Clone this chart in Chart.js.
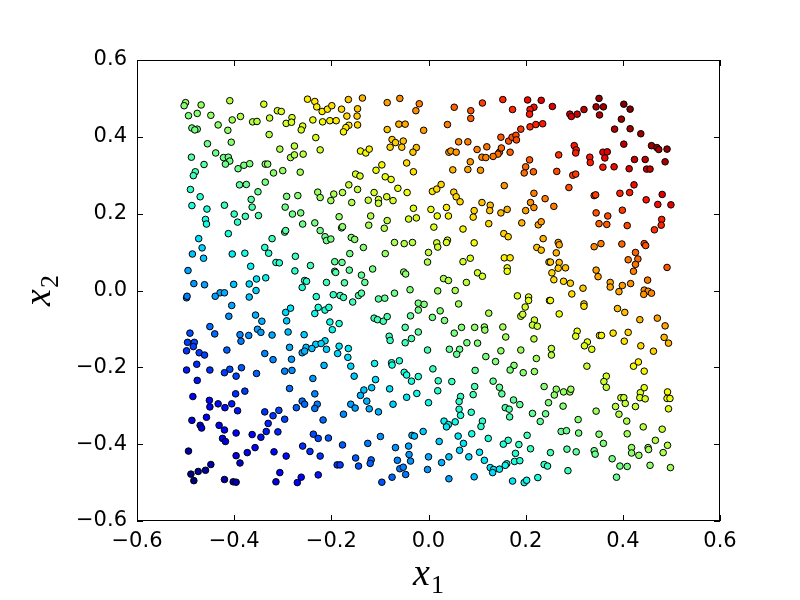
<!DOCTYPE html>
<html>
<head>
<meta charset="utf-8">
<script src="https://cdn.jsdelivr.net/npm/chart.js@4.4.1/dist/chart.umd.min.js"></script>
<style>
  html, body { margin: 0; padding: 0; background: #fff; }
  #wrap { width: 800px; height: 600px; }
</style>
</head>
<body>
<div id="wrap"><canvas id="plot" width="800" height="600"></canvas></div>
<script>
// tick values for both axes
const xTicks = [-0.6, -0.4, -0.2, 0.0, 0.2, 0.4, 0.6];
const yTicks = [-0.6, -0.4, -0.2, 0.0, 0.2, 0.4, 0.6];

// samples: [x1, x2]
const samples = [
  [-0.500,0.489],[-0.503,0.481],[-0.468,0.483],[-0.409,0.494],[-0.494,0.455],[-0.476,0.461],[-0.448,0.456],[-0.339,0.485],
  [-0.311,0.468],[-0.303,0.466],[-0.387,0.453],[-0.404,0.444],[-0.362,0.439],[-0.353,0.440],[-0.327,0.449],[-0.281,0.450],
  [-0.293,0.435],[-0.282,0.438],[-0.487,0.423],[-0.476,0.420],[-0.481,0.418],[-0.433,0.431],[-0.413,0.417],[-0.328,0.406],
  [-0.455,0.382],[-0.406,0.386],[-0.276,0.376],[-0.306,0.368],[-0.488,0.347],[-0.438,0.358],[-0.422,0.346],[-0.412,0.347],
  [-0.409,0.337],[-0.418,0.329],[-0.462,0.328],[-0.392,0.317],[-0.380,0.326],[-0.368,0.330],[-0.336,0.329],[-0.331,0.329],
  [-0.284,0.346],[-0.276,0.353],[-0.480,0.309],[-0.484,0.299],[-0.319,0.306],[-0.300,0.312],[-0.264,0.308],[-0.490,0.263],
  [-0.389,0.275],[-0.375,0.276],[-0.336,0.282],[-0.470,0.244],[-0.351,0.257],[-0.292,0.245],[-0.269,0.247],[-0.365,0.237],
  [-0.487,0.221],[-0.456,0.212],[-0.420,0.222],[-0.363,0.217],[-0.295,0.217],[-0.400,0.199],[-0.377,0.193],[-0.350,0.195],
  [-0.280,0.199],[-0.263,0.202],[-0.459,0.185],
  [-0.249,0.498],[-0.234,0.492],[-0.230,0.478],[-0.219,0.466],[-0.208,0.472],[-0.199,0.481],[-0.165,0.497],[-0.136,0.501],
  [-0.179,0.472],[-0.146,0.473],[-0.085,0.489],[-0.059,0.500],[-0.019,0.486],[-0.026,0.468],[-0.168,0.454],[-0.147,0.454],
  [-0.238,0.444],[-0.218,0.439],[-0.203,0.442],[-0.190,0.442],[-0.164,0.430],[-0.170,0.424],[-0.175,0.413],[-0.146,0.431],
  [-0.061,0.433],[-0.048,0.433],[-0.085,0.419],[-0.010,0.417],[-0.232,0.398],[-0.259,0.428],[-0.262,0.418],[-0.075,0.393],
  [-0.068,0.385],[-0.052,0.389],[-0.079,0.373],[-0.055,0.373],[-0.025,0.372],[-0.032,0.360],[-0.223,0.366],[-0.140,0.363],
  [-0.129,0.358],[-0.122,0.368],[-0.258,0.355],[-0.096,0.327],[-0.108,0.313],[-0.045,0.332],[-0.031,0.309],[-0.150,0.303],
  [-0.141,0.298],[-0.089,0.296],[-0.077,0.289],[-0.063,0.266],[-0.044,0.255],[-0.164,0.275],[-0.146,0.263],[-0.228,0.256],
  [-0.223,0.242],[-0.195,0.251],[-0.177,0.255],[-0.201,0.234],[-0.158,0.229],[-0.112,0.255],[-0.124,0.235],[-0.103,0.237],
  [-0.103,0.227],[-0.086,0.244],[-0.073,0.234],[-0.031,0.214],[-0.184,0.192],[-0.119,0.194],[-0.041,0.186],[-0.025,0.189],
  [0.053,0.477],[0.111,0.488],[0.153,0.497],[0.173,0.471],[0.204,0.496],[0.232,0.495],[0.217,0.477],[0.209,0.471],
  [0.208,0.459],[0.087,0.468],[0.087,0.448],[0.039,0.432],[0.190,0.420],[0.209,0.426],[0.221,0.432],[0.235,0.434],
  [0.062,0.387],[0.081,0.387],[0.149,0.399],[0.165,0.389],[0.172,0.399],[0.180,0.404],[0.181,0.392],[0.100,0.367],
  [0.120,0.374],[0.042,0.360],[0.046,0.363],[0.057,0.360],[0.146,0.360],[0.150,0.371],[0.143,0.355],[0.133,0.349],
  [0.168,0.360],[0.110,0.347],[0.118,0.346],[0.086,0.335],[0.208,0.340],[0.200,0.322],[0.216,0.309],[0.197,0.306],
  [0.050,0.314],[0.081,0.315],[0.107,0.313],[0.156,0.273],[0.008,0.258],[0.017,0.264],[0.026,0.276],[0.052,0.256],
  [0.057,0.244],[0.065,0.231],[0.217,0.253],[0.240,0.239],[0.210,0.229],[0.217,0.216],[0.110,0.229],[0.127,0.222],
  [0.094,0.208],[0.092,0.191],[0.126,0.208],[0.005,0.211],[0.018,0.194],[0.037,0.216],[0.041,0.194],[0.149,0.202],
  [0.162,0.211],[0.200,0.208],
  [0.255,0.479],[0.351,0.500],[0.345,0.478],[0.360,0.478],[0.352,0.457],[0.320,0.471],[0.306,0.459],[0.291,0.459],
  [0.294,0.453],[0.402,0.485],[0.415,0.472],[0.397,0.446],[0.383,0.420],[0.415,0.421],[0.437,0.408],[0.402,0.381],
  [0.459,0.377],[0.470,0.372],[0.474,0.367],[0.491,0.368],[0.487,0.335],[0.300,0.377],[0.304,0.366],[0.303,0.358],
  [0.268,0.353],[0.332,0.347],[0.333,0.333],[0.359,0.360],[0.368,0.361],[0.363,0.345],[0.359,0.321],[0.382,0.322],
  [0.413,0.317],[0.424,0.341],[0.446,0.341],[0.449,0.316],[0.456,0.316],[0.264,0.310],[0.297,0.300],[0.303,0.303],
  [0.289,0.268],[0.423,0.275],[0.341,0.247],[0.344,0.249],[0.394,0.253],[0.414,0.255],[0.448,0.236],[0.481,0.250],
  [0.472,0.224],[0.499,0.223],[0.258,0.219],[0.345,0.202],[0.369,0.194],[0.399,0.209],[0.480,0.185],
  [-0.457,0.173],[-0.393,0.178],[-0.412,0.148],[-0.473,0.135],[-0.466,0.111],[-0.463,0.084],[-0.486,0.095],[-0.404,0.095],
  [-0.378,0.097],[-0.495,0.052],[-0.366,0.063],[-0.337,0.112],[-0.329,0.097],[-0.322,0.135],[-0.296,0.152],[-0.294,0.156],
  [-0.314,0.073],[-0.307,0.072],[-0.274,0.089],[-0.275,0.051],[-0.483,0.018],[-0.461,0.015],[-0.401,0.016],[-0.369,0.017],
  [-0.354,0.030],[-0.335,0.033],[-0.355,0.000],[-0.369,-0.017],[-0.429,-0.006],[-0.420,-0.006],[-0.439,-0.015],[-0.498,-0.019],
  [-0.497,-0.015],[-0.405,-0.039],[-0.411,-0.067],[-0.356,-0.064],[-0.343,-0.080],[-0.284,-0.046],[-0.294,-0.057],[-0.292,-0.079],
  [-0.289,-0.108],[-0.352,-0.101],[-0.345,-0.109],[-0.322,-0.116],[-0.450,-0.094],[-0.440,-0.113],[-0.491,-0.111],[-0.496,-0.135],
  [-0.482,-0.135],[-0.484,-0.146],[-0.388,-0.115],[-0.370,-0.117],[-0.386,-0.132],[-0.286,-0.148],
  [-0.259,0.173],[-0.234,0.176],[-0.123,0.170],[-0.085,0.182],[-0.091,0.162],[-0.179,0.163],[-0.177,0.166],[-0.223,0.156],
  [-0.213,0.140],[-0.210,0.130],[-0.201,0.134],[-0.159,0.138],[-0.152,0.133],[-0.134,0.112],[-0.162,0.096],[-0.070,0.125],
  [-0.050,0.122],[-0.033,0.125],[-0.089,0.096],[-0.243,0.065],[-0.193,0.075],[-0.178,0.073],[-0.193,0.050],[-0.191,0.047],
  [-0.163,0.053],[-0.115,0.056],[-0.051,0.048],[-0.047,0.043],[-0.138,0.040],[-0.131,0.021],[-0.255,0.026],[-0.251,0.024],
  [-0.260,0.008],[-0.210,0.021],[-0.173,0.020],[-0.038,0.002],[-0.231,-0.016],[-0.196,-0.011],[-0.182,-0.013],[-0.175,-0.018],
  [-0.144,-0.013],[-0.138,-0.007],[-0.103,-0.022],[-0.090,-0.020],[-0.070,-0.007],[-0.156,-0.030],[-0.227,-0.044],[-0.213,-0.051],
  [-0.205,-0.044],[-0.234,-0.060],[-0.021,-0.033],[-0.009,-0.036],[-0.021,-0.051],[-0.037,-0.066],[-0.112,-0.072],[-0.105,-0.076],
  [-0.093,-0.080],[-0.085,-0.068],[-0.203,-0.082],[-0.184,-0.086],[-0.198,-0.102],[-0.256,-0.115],[-0.048,-0.096],[-0.021,-0.108],
  [-0.081,-0.119],[-0.079,-0.130],[-0.035,-0.125],[-0.048,-0.136],[-0.213,-0.131],[-0.232,-0.140],[-0.221,-0.138],[-0.252,-0.148],
  [-0.184,-0.145],
  [0.011,0.165],[0.071,0.160],[0.124,0.174],[0.192,0.176],[0.226,0.171],[0.232,0.179],[0.017,0.124],[0.019,0.113],
  [0.039,0.131],[0.037,0.125],[0.094,0.124],[0.155,0.148],[0.164,0.140],[0.236,0.135],[0.223,0.112],[0.232,0.105],
  [0.000,0.099],[-0.002,0.074],[0.071,0.075],[0.086,0.084],[0.156,0.085],[0.168,0.085],[0.248,0.074],[0.162,0.059],
  [0.162,0.050],[0.101,0.046],[0.111,0.037],[0.031,0.031],[0.041,0.026],[0.078,0.021],[0.019,-0.001],[0.055,0.000],
  [0.183,-0.014],[0.206,-0.017],[0.206,-0.026],[0.199,-0.043],[0.190,-0.067],[0.194,-0.062],[0.249,-0.026],[0.062,-0.035],
  [0.024,-0.053],[0.008,-0.070],[0.033,-0.078],[0.124,-0.059],[0.218,-0.077],[0.214,-0.090],[0.224,-0.093],[0.217,-0.126],
  [0.153,-0.095],[0.068,-0.096],[0.095,-0.096],[0.115,-0.095],[0.116,-0.103],[0.053,-0.111],[0.159,-0.121],[0.079,-0.136],
  [0.101,-0.137],
  [0.351,0.174],[0.367,0.172],[0.409,0.169],[0.465,0.158],[0.479,0.170],[0.267,0.125],[0.269,0.119],[0.263,0.098],
  [0.341,0.114],[0.355,0.122],[0.398,0.121],[0.444,0.122],[0.447,0.117],[0.426,0.099],[0.431,0.082],[0.411,0.080],
  [0.426,0.068],[0.422,0.050],[0.491,0.060],[0.251,0.074],[0.254,0.046],[0.258,0.028],[0.269,0.073],[0.267,0.058],
  [0.282,0.059],[0.345,0.053],[0.349,0.036],[0.278,0.024],[0.292,0.019],[0.374,0.021],[0.374,0.009],[0.399,0.013],
  [0.416,0.018],[0.392,-0.003],[0.451,0.027],[0.444,0.001],[0.452,-0.002],[0.459,-0.007],[0.443,-0.010],[0.318,0.006],
  [0.295,-0.009],[0.251,-0.026],[0.320,-0.035],[0.320,-0.041],[0.269,-0.061],[0.389,-0.047],[0.404,-0.057],[0.435,-0.076],
  [0.471,-0.072],[0.487,-0.092],[0.306,-0.106],[0.303,-0.119],[0.352,-0.117],[0.356,-0.117],[0.380,-0.111],[0.411,-0.109],
  [0.485,-0.122],[0.494,-0.137],[0.403,-0.132],[0.327,-0.134],[0.321,-0.144],[0.437,-0.144],
  [-0.498,-0.157],[-0.472,-0.162],[-0.461,-0.168],[-0.415,-0.155],[-0.498,-0.207],[-0.477,-0.192],[-0.450,-0.207],[-0.476,-0.234],
  [-0.420,-0.214],[-0.409,-0.205],[-0.396,-0.223],[-0.385,-0.201],[-0.354,-0.216],[-0.337,-0.164],[-0.320,-0.180],[-0.282,-0.179],
  [-0.296,-0.210],[-0.281,-0.208],[-0.286,-0.255],[-0.397,-0.269],[-0.378,-0.262],[-0.485,-0.276],[-0.451,-0.286],[-0.450,-0.303],
  [-0.433,-0.295],[-0.419,-0.305],[-0.405,-0.295],[-0.393,-0.313],[-0.337,-0.316],[-0.320,-0.326],[-0.308,-0.312],[-0.296,-0.335],
  [-0.272,-0.305],[-0.487,-0.338],[-0.457,-0.330],[-0.470,-0.351],[-0.467,-0.358],[-0.431,-0.351],[-0.420,-0.363],[-0.396,-0.371],
  [-0.424,-0.385],[-0.418,-0.393],[-0.330,-0.346],[-0.334,-0.367],[-0.310,-0.368],[-0.345,-0.382],[-0.363,-0.375],[-0.494,-0.418],
  [-0.396,-0.430],[-0.388,-0.449],[-0.373,-0.422],[-0.357,-0.409],[-0.318,-0.420],[-0.293,-0.431],[-0.448,-0.453],[-0.459,-0.468],
  [-0.474,-0.471],[-0.489,-0.478],[-0.483,-0.495],[-0.420,-0.492],[-0.402,-0.498],[-0.396,-0.499],[-0.306,-0.474],[-0.314,-0.498],
  [-0.270,-0.500],[-0.262,-0.486],
  [-0.240,-0.151],[-0.260,-0.162],[-0.255,-0.158],[-0.210,-0.153],[-0.187,-0.164],[-0.165,-0.151],[-0.166,-0.174],[-0.215,-0.195],
  [-0.160,-0.197],[-0.153,-0.223],[-0.111,-0.190],[-0.076,-0.188],[-0.075,-0.194],[-0.060,-0.183],[-0.238,-0.229],[-0.109,-0.232],
  [-0.117,-0.253],[-0.133,-0.259],[-0.140,-0.273],[-0.127,-0.288],[-0.122,-0.308],[-0.103,-0.316],[-0.050,-0.213],[-0.045,-0.220],
  [-0.035,-0.236],[-0.021,-0.224],[-0.080,-0.256],[-0.045,-0.278],[-0.024,-0.268],[-0.073,-0.296],[-0.234,-0.269],[-0.260,-0.288],
  [-0.255,-0.296],[-0.229,-0.296],[-0.234,-0.307],[-0.160,-0.296],[-0.151,-0.306],[-0.175,-0.322],[-0.217,-0.337],[-0.237,-0.374],
  [-0.227,-0.385],[-0.206,-0.384],[-0.259,-0.405],[-0.244,-0.419],[-0.223,-0.431],[-0.177,-0.402],[-0.125,-0.398],[-0.099,-0.380],
  [-0.150,-0.436],[-0.144,-0.457],[-0.188,-0.454],[-0.182,-0.454],[-0.118,-0.441],[-0.120,-0.450],[-0.068,-0.409],[-0.041,-0.405],
  [-0.040,-0.427],[-0.037,-0.444],[-0.064,-0.442],[-0.034,-0.377],[-0.029,-0.379],[-0.011,-0.367],[-0.059,-0.464],[-0.052,-0.460],
  [-0.047,-0.479],[-0.075,-0.486],[-0.096,-0.499],[-0.227,-0.480],
  [-0.002,-0.155],[0.043,-0.153],[0.064,-0.153],[0.058,-0.166],[0.118,-0.172],[0.149,-0.157],[0.190,-0.155],[0.222,-0.177],
  [0.138,-0.185],[0.176,-0.195],[0.168,-0.207],[0.195,-0.214],[0.218,-0.211],[0.009,-0.204],[0.096,-0.208],[0.020,-0.235],
  [0.019,-0.261],[0.048,-0.237],[0.133,-0.236],[0.146,-0.252],[0.151,-0.269],[0.095,-0.250],[0.092,-0.271],[0.238,-0.250],
  [0.247,-0.292],[0.000,-0.292],[0.066,-0.276],[0.063,-0.289],[0.063,-0.309],[0.066,-0.325],[0.175,-0.285],[0.188,-0.297],
  [0.158,-0.305],[0.166,-0.309],[0.167,-0.329],[0.214,-0.320],[0.230,-0.341],[0.241,-0.321],[0.088,-0.317],[0.032,-0.340],
  [0.041,-0.349],[0.037,-0.355],[0.055,-0.342],[0.111,-0.340],[0.108,-0.354],[0.089,-0.373],[0.061,-0.379],[0.072,-0.398],
  [0.022,-0.393],[0.123,-0.385],[0.203,-0.377],[0.186,-0.401],[0.210,-0.412],[0.164,-0.390],[0.154,-0.400],[0.064,-0.416],
  [0.000,-0.433],[0.027,-0.448],[0.042,-0.433],[0.083,-0.433],[0.105,-0.421],[0.115,-0.442],[0.179,-0.424],[0.177,-0.445],
  [0.188,-0.443],[0.161,-0.451],[0.158,-0.455],[0.238,-0.453],[0.245,-0.457],[0.127,-0.461],[0.134,-0.466],[0.132,-0.474],
  [0.146,-0.465],[-0.002,-0.466],[0.225,-0.487],[0.042,-0.490],[0.094,-0.485],[0.173,-0.496],[0.197,-0.500],[0.202,-0.494],
  [0.253,-0.151],[0.253,-0.168],[0.336,-0.153],[0.463,-0.158],[0.326,-0.197],[0.422,-0.197],[0.432,-0.186],[0.444,-0.210],
  [0.366,-0.223],[0.361,-0.237],[0.366,-0.252],[0.444,-0.253],[0.436,-0.266],[0.435,-0.279],[0.446,-0.282],[0.396,-0.279],
  [0.402,-0.279],[0.405,-0.294],[0.426,-0.302],[0.492,-0.264],[0.491,-0.281],[0.497,-0.281],[0.494,-0.308],[0.263,-0.257],
  [0.259,-0.272],[0.278,-0.264],[0.291,-0.264],[0.293,-0.257],[0.277,-0.301],[0.345,-0.314],[0.385,-0.302],[0.392,-0.322],
  [0.408,-0.340],[0.308,-0.336],[0.273,-0.367],[0.284,-0.365],[0.309,-0.371],[0.351,-0.374],[0.360,-0.398],[0.409,-0.373],
  [0.442,-0.355],[0.481,-0.361],[0.251,-0.422],[0.285,-0.413],[0.304,-0.420],[0.341,-0.417],[0.343,-0.426],[0.378,-0.438],
  [0.418,-0.409],[0.418,-0.423],[0.433,-0.429],[0.452,-0.409],[0.453,-0.414],[0.467,-0.390],[0.483,-0.422],[0.492,-0.403],
  [0.287,-0.469],[0.394,-0.457],[0.409,-0.458],[0.387,-0.486],[0.456,-0.455],[0.498,-0.461]
];

// matplotlib "jet" colormap
const jetR = [[0, 0], [0.35, 0], [0.66, 1], [0.89, 1], [1, 0.5]];
const jetG = [[0, 0], [0.125, 0], [0.375, 1], [0.64, 1], [0.91, 0], [1, 0]];
const jetB = [[0, 0.5], [0.11, 1], [0.34, 1], [0.65, 0], [1, 0]];

function seg(t, pts) {
  for (let i = 1; i < pts.length; i++) {
    if (t <= pts[i][0]) {
      const a = pts[i - 1], b = pts[i];
      return a[1] + (b[1] - a[1]) * (t - a[0]) / (b[0] - a[0]);
    }
  }
  return pts[pts.length - 1][1];
}

function jet(t) {
  t = Math.max(0, Math.min(1, t));
  const r = Math.round(seg(t, jetR) * 255);
  const g = Math.round(seg(t, jetG) * 255);
  const b = Math.round(seg(t, jetB) * 255);
  return `rgb(${r},${g},${b})`;
}

const sums = samples.map(p => p[0] + p[1]);
const lo = Math.min(...sums);
const hi = Math.max(...sums);
const colors = sums.map(s => jet((s - lo) / (hi - lo)));

const fmt = v => {
  const s = Math.abs(v).toFixed(1);
  return v < -1e-9 ? "\u2212" + s : s;
};

// frame, inward ticks on all four sides, and the math-style axis labels
const decor = {
  id: "decor",
  afterDraw(chart) {
    const { ctx, chartArea: a, scales: { x, y } } = chart;
    ctx.save();
    ctx.strokeStyle = "#000";
    ctx.lineWidth = 1;
    ctx.strokeRect(a.left + 0.5, a.top + 0.5, a.right - a.left - 1, a.bottom - a.top - 1);
    const tl = 6;
    ctx.beginPath();
    xTicks.forEach(v => {
      const px = Math.round(x.getPixelForValue(v)) + 0.5;
      ctx.moveTo(px, a.bottom); ctx.lineTo(px, a.bottom - tl);
      ctx.moveTo(px, a.top); ctx.lineTo(px, a.top + tl);
    });
    yTicks.forEach(v => {
      const py = Math.round(y.getPixelForValue(v)) + 0.5;
      ctx.moveTo(a.left, py); ctx.lineTo(a.left + tl, py);
      ctx.moveTo(a.right, py); ctx.lineTo(a.right - tl, py);
    });
    ctx.stroke();

    const mathLabel = (cx, cy, sub, rot) => {
      ctx.save();
      ctx.translate(cx, cy);
      ctx.rotate(rot);
      ctx.fillStyle = "#000";
      ctx.textBaseline = "alphabetic";
      ctx.textAlign = "left";
      const big = "italic 38px 'Liberation Serif', 'DejaVu Serif', serif";
      const small = "26px 'Liberation Serif', 'DejaVu Serif', serif";
      ctx.font = big;
      const w1 = ctx.measureText("x").width;
      ctx.font = small;
      const w2 = ctx.measureText(sub).width;
      const x0 = -(w1 + w2 + 1) / 2;
      ctx.font = big;
      ctx.fillText("x", x0, 8);
      ctx.font = small;
      ctx.fillText(sub, x0 + w1 + 1, 16);
      ctx.restore();
    };
    mathLabel((a.left + a.right) / 2, 577, "1", 0);
    mathLabel(42, (a.top + a.bottom) / 2, "2", -Math.PI / 2);
    ctx.restore();
  }
};

new Chart(document.getElementById("plot"), {
  type: "scatter",
  data: {
    datasets: [{
      data: samples.map(p => ({ x: p[0], y: p[1] })),
      pointRadius: 3.3,
      pointHoverRadius: 3.3,
      pointBackgroundColor: colors,
      pointBorderColor: "#000",
      pointBorderWidth: 1
    }]
  },
  options: {
    responsive: false,
    animation: false,
    events: [],
    layout: { padding: { top: 60, right: 80, left: 0, bottom: 0 } },
    plugins: { legend: { display: false }, tooltip: { enabled: false } },
    scales: {
      x: {
        type: "linear",
        min: -0.6, max: 0.6,
        afterBuildTicks: s => { s.ticks = xTicks.map(v => ({ value: v })); },
        afterFit: s => { s.height = 79; },
        grid: { display: false, drawTicks: false },
        border: { display: false },
        ticks: {
          callback: v => fmt(v),
          color: "#000",
          font: { family: "'DejaVu Sans'", size: 21 },
          padding: 8,
          maxRotation: 0
        }
      },
      y: {
        type: "linear",
        min: -0.6, max: 0.6,
        afterBuildTicks: s => { s.ticks = yTicks.map(v => ({ value: v })); },
        afterFit: s => { s.width = 137; },
        grid: { display: false, drawTicks: false },
        border: { display: false },
        ticks: {
          callback: v => fmt(v),
          color: "#000",
          font: { family: "'DejaVu Sans'", size: 21 },
          padding: 10
        }
      }
    }
  },
  plugins: [decor]
});
</script>
</body>
</html>
